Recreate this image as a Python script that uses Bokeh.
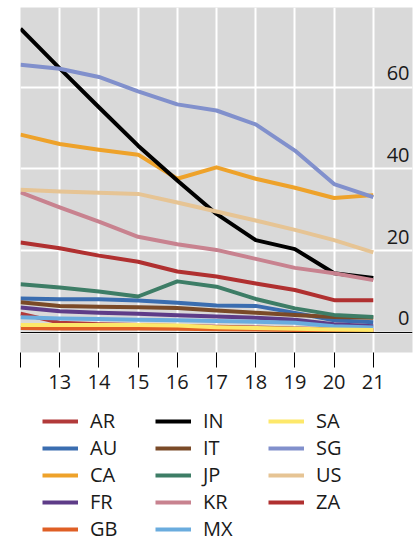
from bokeh.plotting import figure
from bokeh.layouts import column
from bokeh.models import Range1d, FixedTicker, Span, Legend, LegendItem, ColumnDataSource
from bokeh.core.properties import value
from bokeh.embed import file_html
from bokeh.resources import INLINE

years = [12, 13, 14, 15, 16, 17, 18, 19, 20, 21]
AR = [4.6, 2.4, 2.0, 1.8, 1.6, 1.4, 1.2, 1.0, 0.8, 0.6]
AU = [8.3, 8.1, 8.1, 7.8, 7.3, 6.6, 6.5, 4.8, 3.0, 2.5]
CA = [48.4, 46.1, 44.7, 43.5, 37.6, 40.4, 37.6, 35.4, 32.9, 33.6]
FR = [6.1, 5.2, 4.8, 4.6, 4.2, 3.9, 3.6, 3.1, 2.0, 1.5]
GB = [1.1, 1.0, 1.0, 1.0, 0.9, 0.8, 0.7, 0.6, 0.5, 0.4]
IN = [74.3, 64.6, 55.1, 45.7, 37.2, 29.0, 22.6, 20.4, 14.5, 13.3]
IT = [7.4, 6.5, 6.3, 6.2, 6.0, 5.4, 4.8, 4.3, 3.8, 3.6]
JP = [11.8, 11.0, 10.0, 8.8, 12.5, 11.2, 8.2, 5.9, 4.3, 3.8]
KR = [34.3, 30.6, 27.1, 23.4, 21.6, 20.2, 18.0, 15.8, 14.5, 12.8]
MX = [3.7, 3.4, 3.3, 3.1, 3.0, 2.8, 2.6, 2.4, 1.5, 1.2]
SA = [1.8, 1.8, 1.8, 1.8, 1.7, 1.3, 1.1, 0.9, 0.7, 0.6]
SG = [65.5, 64.5, 62.5, 59.0, 55.8, 54.3, 50.9, 44.5, 36.3, 33.1]
US = [34.9, 34.5, 34.2, 33.9, 31.8, 29.6, 27.4, 25.1, 22.6, 19.6]
ZA = [22.0, 20.6, 18.8, 17.3, 14.9, 13.7, 12.0, 10.4, 7.9, 7.9]

series_names = ["AR", "AU", "CA", "FR", "GB", "IN", "IT", "JP", "KR", "MX", "SA", "SG", "US", "ZA"]
series_values = [AR, AU, CA, FR, GB, IN, IT, JP, KR, MX, SA, SG, US, ZA]
series_colors = ["#b23a3a", "#3a6db0", "#eea22a", "#5e3c88", "#df5f25", "#000000", "#7a4a28",
                 "#3d7d66", "#c8828f", "#6aacde", "#fde86a", "#8190cc", "#e6c494", "#b03030"]

y_ticks = [0, 20, 40, 60]
x_ticks = [12, 13, 14, 15, 16, 17, 18, 19, 20, 21]

FONT = "Open Sans"
TXT = "#1a1a1a"

# ---- main chart ----
p = figure(frame_width=392, frame_height=345, output_backend="svg", toolbar_location=None,
           x_range=Range1d(12, 22), y_range=Range1d(-4.9, 79.5),
           min_border_left=20, min_border_right=1, min_border_top=7, min_border_bottom=50)
p.background_fill_color = "#d9d9d9"
p.border_fill_color = "white"
p.outline_line_color = None

p.xaxis.ticker = FixedTicker(ticks=x_ticks)
p.xaxis.major_label_overrides = {12: ""}
p.xaxis.axis_line_color = None
p.xaxis.major_tick_out = 15
p.xaxis.major_tick_in = 0
p.xaxis.major_tick_line_color = "black"
p.xaxis.minor_tick_line_color = None
p.xaxis.major_label_text_font = FONT
p.xaxis.major_label_text_font_size = "20px"
p.xaxis.major_label_text_color = TXT
p.xaxis.major_label_standoff = 7

p.yaxis.visible = False
p.xgrid.ticker = FixedTicker(ticks=x_ticks)
p.ygrid.ticker = FixedTicker(ticks=y_ticks)
p.xgrid.grid_line_color = "white"
p.ygrid.grid_line_color = "white"
p.xgrid.grid_line_width = 2
p.ygrid.grid_line_width = 2

for name, vals, col in zip(series_names, series_values, series_colors):
    p.line(years, vals, line_color=col, line_width=4, line_join="round")

p.add_layout(Span(location=0, dimension="width", line_color="black", line_width=1))

lab_src = ColumnDataSource(dict(x=[22] * len(y_ticks), y=y_ticks, t=[str(v) for v in y_ticks]))
p.text(x="x", y="y", text="t", source=lab_src, text_align="right", text_baseline="bottom",
       x_offset=-3, y_offset=-7, text_font=value(FONT), text_font_size="20px", text_color=TXT)

# ---- legend panel ----
lg = figure(width=413, height=136, output_backend="svg", toolbar_location=None,
            x_range=Range1d(0, 1), y_range=Range1d(0, 1),
            min_border_left=0, min_border_right=0, min_border_top=0, min_border_bottom=0)
lg.axis.visible = False
lg.grid.visible = False
lg.outline_line_color = None
lg.background_fill_color = "white"
lg.border_fill_color = "white"

items = []
for name, vals, col in zip(series_names, series_values, series_colors):
    r = lg.line(years, vals, line_color=col, line_width=4, visible=False)
    items.append(LegendItem(label=name, renderers=[r]))

legend = Legend(items=items, orientation="vertical", nrows=5, location=(22, -4),
                label_text_font=FONT, label_text_font_size="20px", label_text_color=TXT,
                glyph_width=36, glyph_height=20, label_height=20, label_width=65,
                label_standoff=12, spacing=-1, padding=0, margin=0,
                inactive_fill_alpha=0,
                background_fill_alpha=0, border_line_color=None)
lg.add_layout(legend)

layout = column(p, lg, spacing=0)
open("out.html", "w").write(file_html(layout, INLINE))
